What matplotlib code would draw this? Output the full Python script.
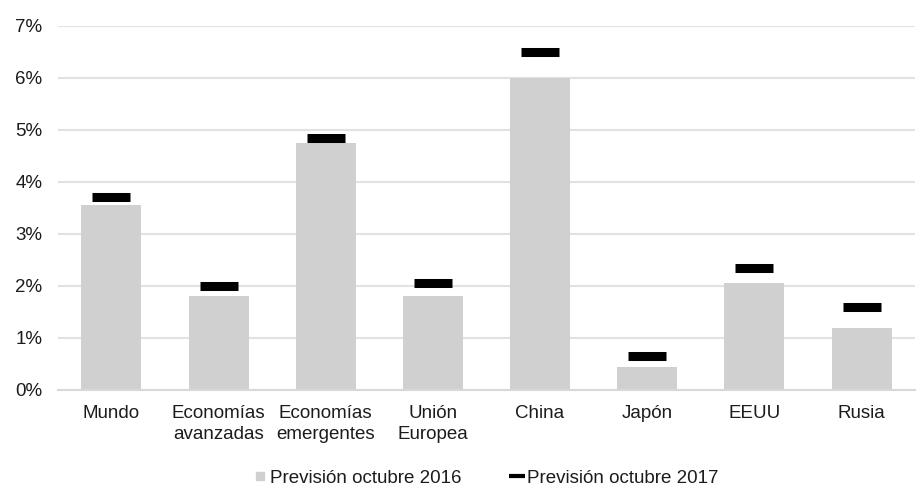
import matplotlib.pyplot as plt
from matplotlib.ticker import FuncFormatter
from matplotlib.lines import Line2D
import numpy as np

categories = ["Mundo", "Economías\navanzadas", "Economías\nemergentes", "Unión\nEuropea",
              "China", "Japón", "EEUU", "Rusia"]
prev_2016 = [3.55, 1.8, 4.75, 1.8, 6.0, 0.45, 2.05, 1.2]
prev_2017 = [3.7, 2.0, 4.85, 2.05, 6.5, 0.65, 2.35, 1.6]

plt.rcParams['font.family'] = ['Liberation Sans', 'DejaVu Sans']

fig = plt.figure(figsize=(9.17, 4.88), dpi=100)
ax = fig.add_axes([0.063, 0.201, 0.935, 0.746])

x = np.arange(len(categories))
ax.bar(x, prev_2016, width=0.56, color="#d0d0d0", zorder=2)
ax.plot(x, prev_2017, linestyle="none", marker="_", ms=27, mew=6.5, color="black", zorder=3)

ax.set_ylim(0, 7)
ax.set_xlim(-0.5, len(categories) - 0.5)
ax.set_yticks(range(0, 8))
ax.yaxis.set_major_formatter(FuncFormatter(lambda v, p: f"{int(v)}%"))
ax.set_xticks(x)
ax.set_xticklabels(categories, linespacing=1.3)
ax.grid(axis="y", color="#e2e2e2", linewidth=1.5, zorder=0)
ax.set_axisbelow(True)
for s in ["top", "right", "left"]:
    ax.spines[s].set_visible(False)
ax.spines["bottom"].set_color("#d8d8d8")
ax.spines["bottom"].set_linewidth(1.5)
ax.tick_params(axis="both", length=0, labelsize=13.5, colors="#1c1c1c")
ax.tick_params(axis="x", pad=11)
ax.tick_params(axis="y", pad=11)

# legend proxies
h1 = Line2D([], [], linestyle="none", marker="s", ms=6, color="#d0d0d0")
h2 = Line2D([], [], linestyle="none", marker="_", ms=11, mew=3, color="black")
fig.legend([h1, h2], ["Previsión octubre 2016", "Previsión octubre 2017"],
           loc="center", bbox_to_anchor=(0.53, 0.02), ncol=2, frameon=False,
           fontsize=13.5, handlelength=0.7, handletextpad=0.2, columnspacing=2.6,
           labelcolor="#1c1c1c")

fig.savefig("out.png", dpi=100)
